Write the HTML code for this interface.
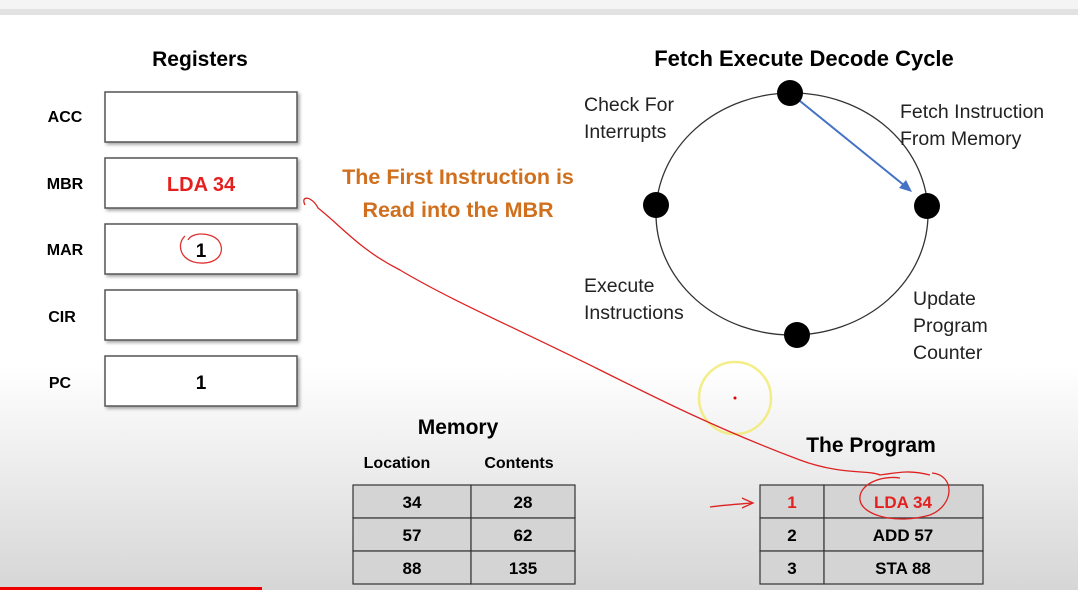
<!DOCTYPE html>
<html><head><meta charset="utf-8"><style>
html,body{margin:0;padding:0;width:1078px;height:590px;overflow:hidden;background:#fff}
svg{display:block}
text{font-family:"Liberation Sans",sans-serif}
</style></head><body>
<svg width="1078" height="590" viewBox="0 0 1078 590" xmlns="http://www.w3.org/2000/svg">
<defs>
<linearGradient id="bg" x1="0" y1="0" x2="0" y2="1">
<stop offset="0" stop-color="#ffffff"/><stop offset="0.62" stop-color="#ffffff"/><stop offset="1" stop-color="#d6d6d6"/>
</linearGradient>
<filter id="sh" x="-5%" y="-5%" width="115%" height="130%"><feDropShadow dx="2" dy="2" stdDeviation="1.5" flood-color="#000" flood-opacity="0.35"/></filter>
</defs>
<rect width="1078" height="590" fill="url(#bg)"/>
<rect width="1078" height="9" fill="#f4f4f4"/>
<rect y="9" width="1078" height="6" fill="#e2e2e2"/>

<text x="200" y="66" font-size="21" font-weight="bold" text-anchor="middle">Registers</text>
<g font-size="16" font-weight="bold" text-anchor="middle">
<text x="65" y="122">ACC</text><text x="65" y="189">MBR</text><text x="65" y="255">MAR</text><text x="62" y="322">CIR</text><text x="60" y="388">PC</text>
</g>
<g fill="#fff" stroke="#555" stroke-width="1.5" filter="url(#sh)">
<rect x="105" y="92" width="192" height="50"/><rect x="105" y="158" width="192" height="50"/>
<rect x="105" y="224" width="192" height="50"/><rect x="105" y="290" width="192" height="50"/>
<rect x="105" y="356" width="192" height="50"/>
</g>
<text x="201" y="191" font-size="20" font-weight="bold" fill="#e51f1f" text-anchor="middle">LDA 34</text>
<text x="201" y="257" font-size="19" font-weight="bold" text-anchor="middle">1</text>
<text x="201" y="389" font-size="19" font-weight="bold" text-anchor="middle">1</text>
<path d="M185 236 C176 244 180 262 200 263 C220 264 226 250 218 240 C210 232 192 232 188 240" fill="none" stroke="#d33" stroke-width="1.3"/>

<text x="458" y="184" font-size="21.5" font-weight="bold" fill="#d0701e" text-anchor="middle">The First Instruction is</text>
<text x="458" y="217" font-size="21.5" font-weight="bold" fill="#d0701e" text-anchor="middle">Read into the MBR</text>

<text x="804" y="66" font-size="22" font-weight="bold" text-anchor="middle">Fetch Execute Decode Cycle</text>
<ellipse cx="792" cy="214" rx="136" ry="121" fill="none" stroke="#333" stroke-width="1.3"/>
<line x1="795" y1="97" x2="905" y2="186" stroke="#4472c4" stroke-width="2"/>
<polygon points="912,192 899,188 906,180" fill="#4472c4"/>
<g fill="#000"><circle cx="790" cy="93" r="13"/><circle cx="656" cy="205" r="13"/><circle cx="927" cy="206" r="13"/><circle cx="797" cy="335" r="13"/></g>
<g font-size="19.5" fill="#222">
<text x="584" y="111">Check For</text><text x="584" y="138">Interrupts</text>
<text x="900" y="118">Fetch Instruction</text><text x="900" y="145">From Memory</text>
<text x="584" y="292">Execute</text><text x="584" y="319">Instructions</text>
<text x="913" y="305">Update</text><text x="913" y="332">Program</text><text x="913" y="359">Counter</text>
</g>

<ellipse cx="735" cy="398" rx="36" ry="36" fill="none" stroke="#f0ea6a" stroke-width="2.5" opacity="0.8"/>
<circle cx="735" cy="398" r="1.5" fill="#d00"/>

<text x="458" y="434" font-size="21" font-weight="bold" text-anchor="middle">Memory</text>
<text x="397" y="468" font-size="16" font-weight="bold" text-anchor="middle">Location</text>
<text x="519" y="468" font-size="16" font-weight="bold" text-anchor="middle">Contents</text>
<text x="871" y="452" font-size="21" font-weight="bold" text-anchor="middle">The Program</text>

<g fill="#d4d4d4" stroke="#333" stroke-width="1.2">
<rect x="353" y="485" width="118" height="33"/><rect x="471" y="485" width="104" height="33"/>
<rect x="353" y="518" width="118" height="33"/><rect x="471" y="518" width="104" height="33"/>
<rect x="353" y="551" width="118" height="33"/><rect x="471" y="551" width="104" height="33"/>
<rect x="760" y="485" width="64" height="33"/><rect x="824" y="485" width="159" height="33"/>
<rect x="760" y="518" width="64" height="33"/><rect x="824" y="518" width="159" height="33"/>
<rect x="760" y="551" width="64" height="33"/><rect x="824" y="551" width="159" height="33"/>
</g>
<g font-size="17" font-weight="bold" text-anchor="middle">
<text x="412" y="508">34</text><text x="523" y="508">28</text>
<text x="412" y="541">57</text><text x="523" y="541">62</text>
<text x="412" y="574">88</text><text x="523" y="574">135</text>
<text x="792" y="508" fill="#e51f1f">1</text><text x="903" y="508" fill="#e51f1f">LDA 34</text>
<text x="792" y="541">2</text><text x="903" y="541">ADD 57</text>
<text x="792" y="574">3</text><text x="903" y="574">STA  88</text>
</g>

<g fill="none" stroke="#d22" stroke-width="1.3">
<path d="M305 205 C300 195 312 196 318 208 C340 225 360 250 400 270 C450 300 520 330 600 370 C660 400 720 430 800 460 C840 475 870 470 880 475 C900 472 910 470 930 475"/>
<path d="M932 473 C955 475 955 505 930 515 C895 525 862 515 860 500 C858 485 880 475 900 478"/>
<path d="M710 507 C725 505 740 504 752 503"/>
<path d="M742 498 L753 503 L742 508"/>
</g>

<rect x="0" y="587" width="262" height="3" fill="#e00"/>
</svg>
</body></html>
